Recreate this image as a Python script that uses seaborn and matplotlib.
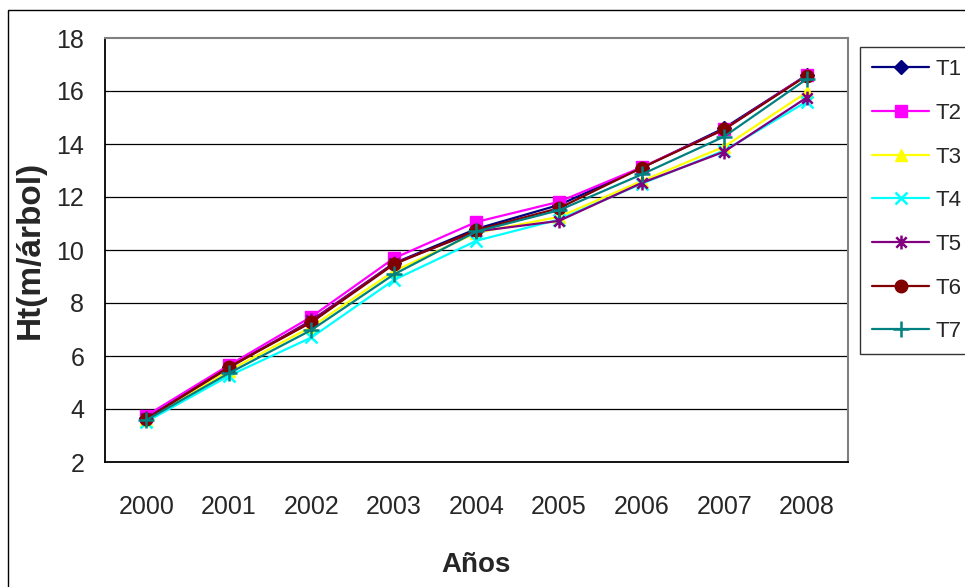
import numpy as np
import pandas as pd
import seaborn as sns
import matplotlib
matplotlib.use("Agg")
import matplotlib.pyplot as plt
from matplotlib.path import Path
from matplotlib.patches import Rectangle

years = ["2000", "2001", "2002", "2003", "2004", "2005", "2006", "2007", "2008"]
t1 = [3.65, 5.60, 7.30, 9.50, 10.80, 11.70, 13.10, 14.60, 16.60]
t2 = [3.75, 5.65, 7.48, 9.69, 11.06, 11.82, 13.12, 14.55, 16.60]
t3 = [3.60, 5.45, 7.10, 9.20, 10.65, 11.25, 12.60, 13.90, 15.95]
t4 = [3.52, 5.25, 6.70, 8.87, 10.35, 11.15, 12.50, 13.75, 15.60]
t5 = [3.65, 5.55, 7.35, 9.50, 10.70, 11.10, 12.53, 13.71, 15.75]
t6 = [3.62, 5.58, 7.27, 9.46, 10.75, 11.58, 13.10, 14.55, 16.58]
t7 = [3.58, 5.35, 6.98, 9.08, 10.70, 11.50, 12.85, 14.28, 16.45]
series_names = ["T1", "T2", "T3", "T4", "T5", "T6", "T7"]
yticks = [2, 4, 6, 8, 10, 12, 14, 16, 18]

# excel style star: x with a vertical stroke
star = Path([(0, -1), (0, 1), (-0.75, -0.75), (0.75, 0.75), (-0.75, 0.75), (0.75, -0.75)],
            [Path.MOVETO, Path.LINETO, Path.MOVETO, Path.LINETO, Path.MOVETO, Path.LINETO])

styles = {
    "T1": dict(color="#000080", marker="D", ms=7),
    "T2": dict(color="#FF00FF", marker="s", ms=8),
    "T3": dict(color="#FFFF00", marker="^", ms=9),
    "T4": dict(color="#00FFFF", marker="x", ms=9, mew=1.8),
    "T5": dict(color="#800080", marker=star, ms=10, mew=1.8),
    "T6": dict(color="#800000", marker="o", ms=9),
    "T7": dict(color="#008080", marker="+", ms=11, mew=1.8),
}

sns.set_style("white")
plt.rcParams["font.family"] = ["Liberation Sans", "DejaVu Sans"]

df = pd.DataFrame({"pos": np.arange(len(years))})
for name, vals in zip(series_names, [t1, t2, t3, t4, t5, t6, t7]):
    df[name] = vals

fig = plt.figure(figsize=(9.65, 5.87), dpi=100)
ax = fig.add_axes([105 / 965, 1 - 462 / 587, (848 - 105) / 965, (462 - 38) / 587])

for name in series_names:
    st = styles[name]
    sns.lineplot(data=df, x="pos", y=name, ax=ax, color=st["color"], lw=1.6,
                 marker=st["marker"], markersize=st["ms"],
                 markeredgewidth=st.get("mew", 1), markeredgecolor=st["color"],
                 markerfacecolor=st["color"], label=name, zorder=3)

ax.set_xlim(-0.5, len(years) - 0.5)
ax.set_ylim(2, 18)
ax.set_yticks(yticks)
ax.set_yticklabels([str(v) for v in yticks], fontsize=18)
ax.set_xticks(np.arange(len(years)))
ax.set_xticklabels(years, fontsize=18)
ax.set_xticks(np.arange(len(years) + 1) - 0.5, minor=True)
ax.tick_params(axis="x", which="major", length=0, pad=24)
ax.tick_params(axis="x", which="minor", length=6, width=1, color="black", direction="out")
ax.tick_params(axis="y", length=6, width=1, color="black", direction="out", pad=9)
ax.set_xlabel("")
ax.set_ylabel("")

for v in yticks[1:-1]:
    ax.axhline(v, color="black", lw=0.9, zorder=1)

for s in ["left", "bottom"]:
    ax.spines[s].set_color("black")
    ax.spines[s].set_linewidth(1.3)
for s in ["top", "right"]:
    ax.spines[s].set_color("#808080")
    ax.spines[s].set_linewidth(1.5)

leg = ax.legend(loc="upper left", bbox_to_anchor=(860 / 965, 1 - 47 / 587),
                bbox_transform=fig.transFigure, borderaxespad=0, fontsize=16,
                frameon=True, fancybox=False, edgecolor="black", handlelength=2.55,
                labelspacing=1.02, handletextpad=0.3, borderpad=0.55)
leg.get_frame().set_linewidth(1)

fig.text(30 / 965, 1 - 250 / 587, "Ht(m/árbol)", rotation=90, ha="center", va="center",
         fontsize=24, fontweight="bold")
fig.text(476 / 965, 1 - 565 / 587, "Años", ha="center", va="center", fontsize=20,
         fontweight="bold")

fig.patches.append(Rectangle((8 / 965, -0.1), 1.2, 1.1 - 10 / 587, transform=fig.transFigure,
                             fill=False, edgecolor="black", lw=1))

fig.savefig("out.png", dpi=100)
